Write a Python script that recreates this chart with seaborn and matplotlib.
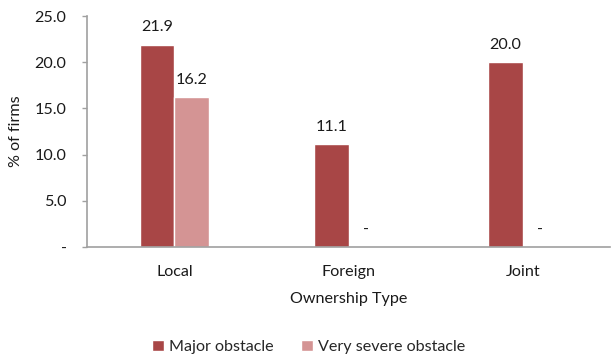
import matplotlib
matplotlib.use("Agg")
import matplotlib.pyplot as plt
import seaborn as sns
import pandas as pd

categories = ["Local", "Foreign", "Joint"]
series_names = ["Major obstacle", "Very severe obstacle"]
major = [21.9, 11.1, 20.0]
very_severe = [16.2, 0.0, 0.0]
yticks = [0, 5, 10, 15, 20, 25]
ytick_labels = ["-", "5.0", "10.0", "15.0", "20.0", "25.0"]

colors = ["#A84646", "#D49494"]
fs = 11.6

sns.set_theme(style="white")
plt.rcParams["font.family"] = ["Lato", "DejaVu Sans"]

df = pd.DataFrame({
    "Ownership Type": categories * 2,
    "value": major + very_severe,
    "series": [series_names[0]] * 3 + [series_names[1]] * 3,
})

fig = plt.figure(figsize=(6.11, 3.58), dpi=100)
ax = fig.add_axes([0.143, 0.31, 0.855, 0.645])

sns.barplot(data=df, x="Ownership Type", y="value", hue="series",
            hue_order=series_names, palette=colors, width=0.4, gap=0,
            saturation=1, ax=ax, errorbar=None, legend=True)

for container in ax.containers:
    for bar in container:
        h = bar.get_height()
        label = f"{h:.1f}" if h > 0 else "-"
        ax.annotate(label, (bar.get_x() + bar.get_width() / 2, h),
                    xytext=(0, 12.6), textcoords="offset points",
                    ha="center", va="center", fontsize=fs, color="#1a1a1a")

ax.set_ylim(0, 25)
ax.set_xlim(-0.5, 2.5)
ax.set_yticks(yticks)
ax.set_yticklabels(ytick_labels)
ax.set_ylabel("% of firms", fontsize=fs, color="#1a1a1a")
ax.yaxis.set_label_coords(-0.124, 0.5)
ax.set_xlabel("Ownership Type", fontsize=fs, color="#1a1a1a", labelpad=9)
ax.tick_params(axis="x", length=0, pad=13, labelsize=fs, colors="#1a1a1a")
ax.tick_params(axis="y", length=3.5, width=1.0, direction="out", pad=11.5,
               labelsize=fs, color="#A0A0A0", labelcolor="#1a1a1a", left=True)

for side in ["top", "right"]:
    ax.spines[side].set_visible(False)
for side in ["left", "bottom"]:
    ax.spines[side].set_color("#A0A0A0")
    ax.spines[side].set_linewidth(1.2)

handles, labels = ax.get_legend_handles_labels()
ax.get_legend().remove()
fig.legend(handles, labels, loc="center", bbox_to_anchor=(0.505, 0.031), ncol=2,
           frameon=False, fontsize=fs, handlelength=0.75, handleheight=0.75,
           handletextpad=0.3, columnspacing=1.7)

fig.savefig("out.png", dpi=100)
